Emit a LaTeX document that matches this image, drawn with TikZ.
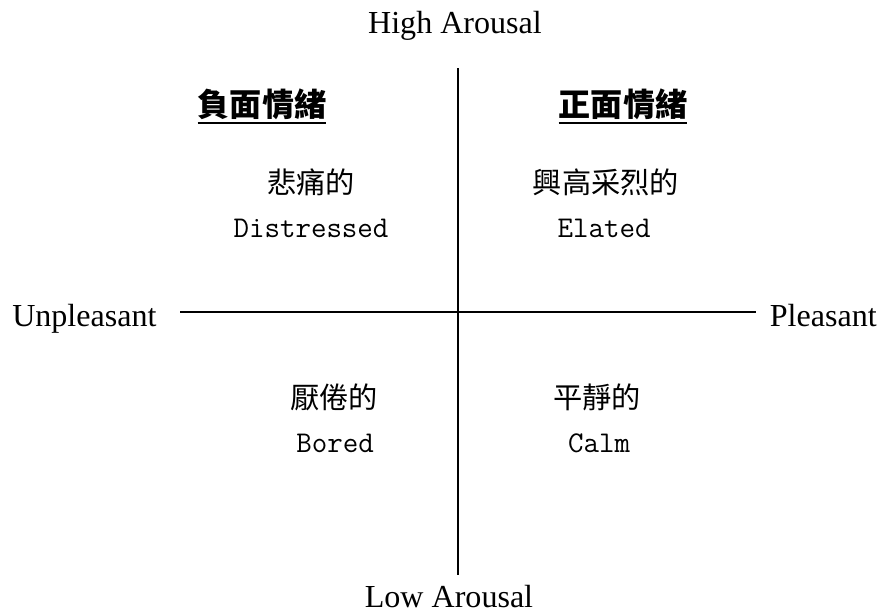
\documentclass[tikz,border=0pt]{standalone}
\usepackage{fontspec}
\setmainfont{Liberation Serif}
\newfontfamily\cjk{Noto Sans CJK TC}
\tikzset{
  axislabel/.style={font=\fontsize{22.8}{26}\selectfont,inner sep=0pt,anchor=base},
  heading/.style={font=\cjk\bfseries\fontsize{22.8}{26}\selectfont,inner sep=0pt},
  zhword/.style={font=\cjk\fontsize{20.8}{24}\selectfont,inner sep=0pt},
  enword/.style={font=\ttfamily\fontsize{21.4}{24}\selectfont,inner sep=0pt,anchor=base},
  axis/.style={line width=1.4pt},
}
\begin{document}
\begin{tikzpicture}[x=0.025cm,y=-0.025cm]
    \useasboundingbox (0,0) rectangle (879,612);
    % axes
    \coordinate (north) at (458,68);
    \coordinate (south) at (458,575);
    \coordinate (west) at (180,312);
    \coordinate (east) at (756,312);
    \draw[axis] (west) -- (east);
    \draw[axis] (north) -- (south);
    \node[axislabel] (high) at (455,33) {High Arousal};
    \node[axislabel] (low) at (449,607) {Low Arousal};
    \node[axislabel,anchor=base west] (unpl) at (12,326) {Unpleasant};
    \node[axislabel,anchor=base east] (pl) at (877,326) {Pleasant};
    % headings
    \node[heading] (neg) at (262,104) {負面情緒};
    \node[heading] (pos) at (623,104) {正面情緒};
    \draw[axis] ([yshift=-2pt]neg.south west) -- ([yshift=-2pt]neg.south east);
    \draw[axis] ([yshift=-2pt]pos.south west) -- ([yshift=-2pt]pos.south east);
    % quadrants
    \node[zhword] (distress-zh) at (311,182) {悲痛的};
    \node[enword] (distress-en) at (311,237) {Distressed};
    \node[zhword] (elated-zh) at (606,182) {興高采烈的};
    \node[enword] (elated-en) at (604,237) {Elated};
    \node[zhword] (bored-zh) at (334,397) {厭倦的};
    \node[enword] (bored-en) at (335,452) {Bored};
    \node[zhword] (calm-zh) at (597,397) {平靜的};
    \node[enword] (calm-en) at (599,452) {Calm};
\end{tikzpicture}
\end{document}
